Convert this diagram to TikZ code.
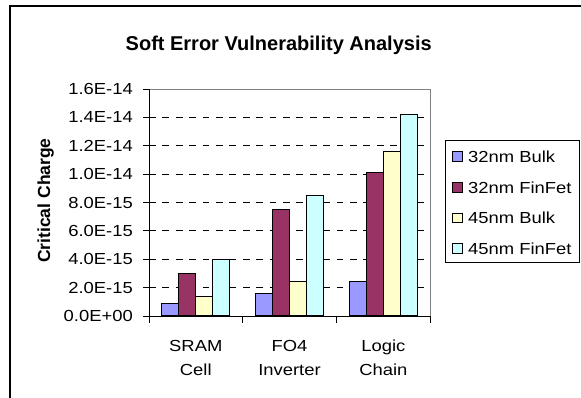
\documentclass[tikz,border=0pt]{standalone}
\usepackage{fontspec}
\setmainfont{Liberation Sans}
\newfontfamily\lblfont{Liberation Sans}[FakeStretch=1.15]
\definecolor{cbulkA}{HTML}{9999FF}
\definecolor{cfinA}{HTML}{993366}
\definecolor{cbulkB}{HTML}{FFFFCC}
\definecolor{cfinB}{HTML}{CCFFFF}
\definecolor{plotgray}{HTML}{808080}
\tikzset{
  lbl/.style={inner sep=0pt,font=\lblfont\fontsize{16}{19}\selectfont},
  bar/.style={draw=black,line width=1.2pt},
  gridln/.style={draw=black,line width=0.9pt,dash pattern=on 6.7pt off 6.7pt},
  axisln/.style={draw=black,line width=1pt},
  swatch/.style={draw=black,line width=1pt}
}
\newcommand{\drawgroup}[5]{% #1 center, #2..#5 values
  \draw[bar,fill=cbulkA] ({#1-34},316) rectangle ({#1-17},{316-#2*14.1875});
  \draw[bar,fill=cfinA]  ({#1-17},316) rectangle ({#1},{316-#3*14.1875});
  \draw[bar,fill=cbulkB] ({#1},316) rectangle ({#1+17},{316-#4*14.1875});
  \draw[bar,fill=cfinB]  ({#1+17},316) rectangle ({#1+34},{316-#5*14.1875});
}
\begin{document}
\begin{tikzpicture}[x=1pt,y=-1pt]
\useasboundingbox (0,0) rectangle (581,397);
\clip (0,0) rectangle (581,397);
% outer frame
\draw[line width=1.8pt] (10,6) rectangle (640,440);
% title
\node[inner sep=0pt,anchor=base,font=\bfseries\fontsize{20}{24}\selectfont] (title) at (278.7,50.7) {Soft Error Vulnerability Analysis};
% axis title
\node[inner sep=0pt,anchor=base,rotate=90,font=\bfseries\fontsize{17.5}{21}\selectfont] (ytitle) at (50,200.5) {Critical Charge};
% gridlines
\foreach \v in {2,4,...,14}{
  \draw[gridln] (149,{316-\v*14.1875}) -- (430,{316-\v*14.1875});
}
% plot border
\draw[plotgray,line width=1pt] (149,89) -- (430,89) -- (430,316);
% bars
\drawgroup{195.8}{0.9}{3.0}{1.35}{4.0}
\drawgroup{289.5}{1.6}{7.5}{2.45}{8.5}
\drawgroup{383.3}{2.45}{10.1}{11.6}{14.2}
% axes
\draw[axisln] (149,89) -- (149,316) -- (430,316);
% y ticks and labels
\foreach \v/\t in {0/0.0E+00,2/2.0E-15,4/4.0E-15,6/6.0E-15,8/8.0E-15,10/1.0E-14,12/1.2E-14,14/1.4E-14,16/1.6E-14}{
  \draw[axisln] (143,{316-\v*14.1875}) -- (149,{316-\v*14.1875});
  \node[lbl,anchor=east] (yl\v) at (133,{316-\v*14.1875}) {\t};
}
% x ticks
\foreach \xx in {149,242.7,336.3,430}{
  \draw[axisln] (\xx,316) -- (\xx,322.5);
}
% category labels
\node[lbl,anchor=base] (c1a) at (195.8,351.7) {SRAM};
\node[lbl,anchor=base] (c1b) at (195.8,375) {Cell};
\node[lbl,anchor=base] (c2a) at (289.5,351.7) {FO4};
\node[lbl,anchor=base] (c2b) at (289.5,375) {Inverter};
\node[lbl,anchor=base] (c3a) at (383.3,351.7) {Logic};
\node[lbl,anchor=base] (c3b) at (383.3,375) {Chain};
% legend
\draw[draw=black,line width=1pt,fill=white] (445.3,140.7) rectangle (579.3,262.5);
\foreach \yy/\c/\t [count=\i] in {156.5/cbulkA/32nm Bulk,187.3/cfinA/32nm FinFet,218/cbulkB/45nm Bulk,248.6/cfinB/45nm FinFet}{
  \draw[swatch,fill=\c] (452.7,{\yy-4.8}) rectangle (462.3,{\yy+4.8});
  \node[lbl,anchor=west] (lg\i) at (468,\yy) {\t};
}
\end{tikzpicture}
\end{document}
